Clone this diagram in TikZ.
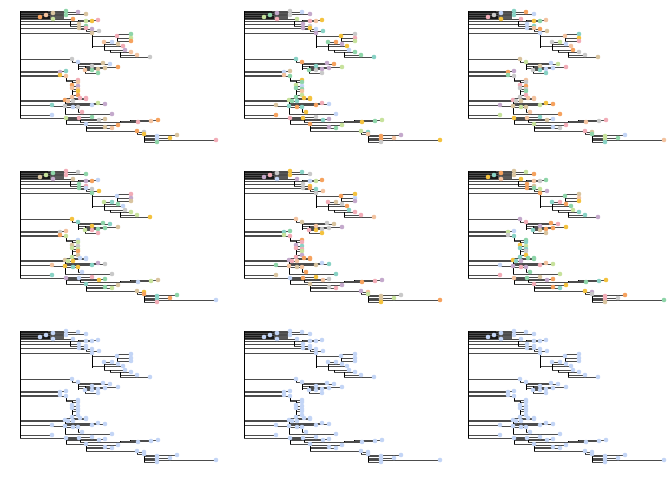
\documentclass[tikz,border=0pt]{standalone}
\usepackage{tikz}
% tip colours
\definecolor{tc0}{HTML}{F6A25E}
\definecolor{tc1}{HTML}{F3C3A0}
\definecolor{tc2}{HTML}{D9C49F}
\definecolor{tc3}{HTML}{C7E29C}
\definecolor{tc4}{HTML}{8ED5A9}
\definecolor{tc5}{HTML}{C4A9CC}
\definecolor{tc6}{HTML}{F2ACB7}
\definecolor{tc7}{HTML}{C9C9C9}
\definecolor{tc8}{HTML}{C3D5F6}
\definecolor{tc9}{HTML}{F4C23E}
\definecolor{tc10}{HTML}{88D2C5}
\tikzset{
  br/.style={line width=0.8pt,gray!60!black},
  vbr/.style={line width=0.6pt,black},
}
% xp/xt/y/colour of every tip
\def\tiplist{0/20/7/0, 0/26/5/1, 0/33/3/2, 0/33/9/3, 28/46/1/4, 28/46/5/4, 30/53/9/0, 30/58/2/5, 30/66/4/2,
  0/66/11/3, 50/72/11/9, 58/78/10/6, 0/59/14/2, 50/66/16/4, 0/59/18/2, 55/66/18/6, 60/72/19/5, 66/79/21/7, 0/72/23/2,
  72/97/26/6, 97/111/24/4, 97/111/28/3, 97/111/31/0, 84/84/32/1, 84/92/32/8, 84/98/34/2, 84/103/36/6, 84/105/40/5,
  90/111/42/1, 100/117/45/1, 100/130/47/7,
  0/52/49/7, 52/58/52/8, 58/83/53/2, 58/90/54/8, 58/72/56/7, 65/65/60/1, 65/72/60/4, 65/78/59/2, 65/85/58/2,
  65/98/57/0, 65/78/63/4,
  0/40/62/5, 0/46/61/10, 0/40/65/9, 0/46/66/1, 46/58/70/6,
  52/58/72/1, 52/52/75/0, 52/58/76/5, 52/52/78/1, 52/58/79/1, 52/58/81/9, 52/58/85/0, 52/52/87/1, 52/66/88/6,
  0/45/90/0, 0/48/91/1, 0/53/91/7, 45/60/88/6, 53/66/89/6, 45/78/93/3, 45/85/94/5, 45/72/95/8, 0/32/95/10,
  32/45/96/7, 45/53/97/8, 45/58/97/7, 58/62/102/6, 45/92/104/5,
  0/32/105/8, 0/46/108/3, 46/59/108/6, 46/72/107/4, 46/79/110/7, 46/85/109/2, 60/118/112/6, 100/131/111/1,
  110/138/110/0, 46/66/114/8, 66/85/117/2, 66/92/118/1, 66/98/115/0, 66/117/121/0, 117/124/122/7, 117/124/124/9,
  124/137/126/8, 124/157/125/2, 124/150/128/9, 124/137/129/8, 124/137/132/4, 124/196/130/6}
% x/y1/y2 of every vertical
\def\vlist{0/1/108, 50/11/16, 58/10/11, 60/18/19, 66/19/21, 72/23/38, 97/24/31, 84/32/40,
  90/40/42, 100/42/47, 52/49/52, 58/52/60, 65/56/63, 46/66/71, 52/71/88, 45/88/104, 53/89/91, 32/95/96,
  58/97/102, 46/108/114, 60/108/112, 100/111/112, 110/110/111, 66/114/121, 117/121/124, 124/122/132}
\newcommand\drawtree{%
  % dense top clade
  \fill[black!90] (0,0.5) rectangle (30,9.5);
  \foreach \y in {1,2,...,9} {\draw[br,gray!70!black] (30,\y) -- (44,\y);}
  \foreach \xp/\xt/\y/\c in \tiplist {\draw[br] (\xp,\y) -- (\xt,\y);}
  \foreach \xa/\xb/\y in {72/84/36, 58/65/58, 46/52/71} {\draw[br] (\xa,\y) -- (\xb,\y);}
  \foreach \x/\ya/\yb in \vlist {\draw[vbr] (\x,\ya) -- (\x,\yb);}
  \foreach \xp/\xt/\y/\c in \tiplist {
    \pgfmathtruncatemacro\cc{\rot<0 ? 8 : mod(\c+\rot,11)}
    \fill[tc\cc] (\xt,\y) circle[radius=2.3pt];
  }
}
\begin{document}
\begin{tikzpicture}[x=1pt,y=-1pt]
\fill[white] (0,0) rectangle (672,480);
\useasboundingbox (0,0) rectangle (672,480);
\foreach \px/\py/\r in {20/10/0, 244/10/3, 468/10/6, 20/170/2, 244/170/5, 468/170/9, 20/330/-1, 244/330/-1, 468/330/-1} {
  \begin{scope}[shift={(\px,\py)}]
    \def\rot{\r}
    \drawtree
  \end{scope}
}
\end{tikzpicture}
\end{document}
